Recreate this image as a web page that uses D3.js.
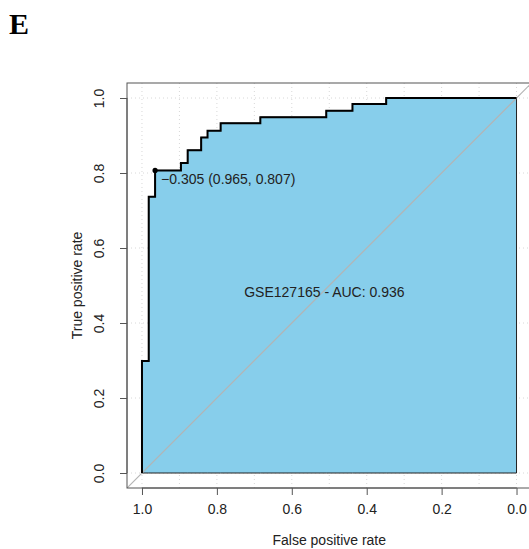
<!DOCTYPE html>
<html>
<head>
<meta charset="utf-8">
<script src="https://cdn.jsdelivr.net/npm/d3@7"></script>
<style>
  body { margin: 0; background: #fff; }
  text { font-family: "Liberation Sans", Arial, sans-serif; fill: #222; }
</style>
</head>
<body>
<svg id="chart" width="529" height="549"></svg>
<script>
// ROC coordinates (specificity, sensitivity), step corners
var specificity = [1, 1, 0.982, 0.965, 0.896, 0.878, 0.842, 0.825, 0.790, 0.684, 0.508, 0.438, 0.348, 0];
var sensitivity = [0, 0.299, 0.737, 0.807, 0.827, 0.861, 0.895, 0.913, 0.933, 0.949, 0.966, 0.984, 1, 1];
var bestPoint = {threshold: "\u22120.305", spec: 0.965, sens: 0.807};
var aucLabel = "GSE127165 - AUC: 0.936";
var tickValues = [1.0, 0.8, 0.6, 0.4, 0.2, 0.0];
var gridX = [1.0, 0.9, 0.8, 0.7, 0.6, 0.5, 0.4, 0.3, 0.2, 0.1, 0.0];
var gridY = [0.0, 0.2, 0.4, 0.6, 0.8, 1.0];

var svg = d3.select("#chart");

var x = d3.scaleLinear().domain([1.04, -0.04]).range([127, 531.5]);
var y = d3.scaleLinear().domain([-0.04, 1.04]).range([488, 83]);

var pts = specificity.map(function(s, i) { return [s, sensitivity[i]]; });

// panel letter
svg.append("text")
    .attr("x", 9).attr("y", 34)
    .style("font-family", "'Liberation Serif', 'Times New Roman', serif")
    .style("font-weight", "bold")
    .style("font-size", "30px")
    .style("fill", "#000")
    .text("E");

// grid
svg.append("g").selectAll("line").data(gridX).join("line")
    .attr("x1", d => x(d)).attr("x2", d => x(d))
    .attr("y1", y(-0.04)).attr("y2", y(1.04))
    .attr("stroke", "#d8d8d8").attr("stroke-dasharray", "1,3");
svg.append("g").selectAll("line").data(gridY).join("line")
    .attr("y1", d => y(d)).attr("y2", d => y(d))
    .attr("x1", x(1.04)).attr("x2", x(-0.04))
    .attr("stroke", "#d8d8d8").attr("stroke-dasharray", "1,3");

// auc polygon
var area = d3.area()
    .x(d => x(d[0])).y0(y(0)).y1(d => y(d[1]))
    .curve(d3.curveStepAfter);
svg.append("path").datum(pts)
    .attr("d", area)
    .attr("fill", "#87CEEB")
    .attr("stroke", "#222").attr("stroke-width", 1);

// identity line (clipped to plot box)
svg.append("clipPath").attr("id", "clip").append("rect")
    .attr("x", x(1.04)).attr("y", y(1.04))
    .attr("width", x(-0.04) - x(1.04)).attr("height", y(-0.04) - y(1.04));
svg.append("line")
    .attr("clip-path", "url(#clip)")
    .attr("x1", x(1.04)).attr("y1", y(-0.04))
    .attr("x2", x(-0.04)).attr("y2", y(1.04))
    .attr("stroke", "#b4b4b4").attr("stroke-width", 1.2);

// roc curve
var line = d3.line()
    .x(d => x(d[0])).y(d => y(d[1]))
    .curve(d3.curveStepAfter);
svg.append("path").datum(pts)
    .attr("d", line)
    .attr("fill", "none")
    .attr("stroke", "#000").attr("stroke-width", 2);

// best threshold point
svg.append("circle")
    .attr("cx", x(bestPoint.spec)).attr("cy", y(bestPoint.sens))
    .attr("r", 2.6).attr("fill", "#000");
svg.append("text")
    .attr("x", x(bestPoint.spec) + 6).attr("y", y(bestPoint.sens) + 14)
    .style("font-size", "14px")
    .text(bestPoint.threshold + " (" + bestPoint.spec.toFixed(3) + ", " + bestPoint.sens.toFixed(3) + ")");

// auc text
svg.append("text")
    .attr("x", x(0.513)).attr("y", y(0.5) + 11)
    .attr("text-anchor", "middle")
    .style("font-size", "14px")
    .text(aucLabel);

// box
svg.append("rect")
    .attr("x", x(1.04)).attr("y", y(1.04))
    .attr("width", x(-0.04) - x(1.04)).attr("height", y(-0.04) - y(1.04))
    .attr("fill", "none").attr("stroke", "#555").attr("stroke-width", 1);

// x axis
var xAxis = svg.append("g").attr("transform", "translate(0," + y(-0.04) + ")")
    .call(d3.axisBottom(x).tickValues(tickValues).tickFormat(d3.format(".1f"))
        .tickSize(7).tickSizeOuter(0).tickPadding(9));
xAxis.select(".domain").attr("stroke", "#555")
    .attr("d", "M" + x(1) + ",0H" + x(0));
xAxis.selectAll(".tick line").attr("stroke", "#555");
xAxis.selectAll("text").style("font-size", "14px")
    .style("font-family", "'Liberation Sans', Arial, sans-serif").attr("fill", "#222");

// y axis
var yAxis = svg.append("g").attr("transform", "translate(" + x(1.04) + ",0)")
    .call(d3.axisLeft(y).tickValues(tickValues).tickFormat(d3.format(".1f"))
        .tickSize(7).tickSizeOuter(0));
yAxis.select(".domain").attr("stroke", "#555")
    .attr("d", "M0," + y(0) + "V" + y(1));
yAxis.selectAll(".tick line").attr("stroke", "#555");
yAxis.selectAll("text")
    .style("font-size", "14px")
    .style("font-family", "'Liberation Sans', Arial, sans-serif")
    .attr("fill", "#222")
    .attr("x", null).attr("dy", null)
    .attr("text-anchor", "middle")
    .attr("transform", "translate(-28,0) rotate(-90)")
    .attr("y", 0)
    .attr("dy", "0.35em");

// axis titles
svg.append("text")
    .attr("x", x(0.5)).attr("y", 545)
    .attr("text-anchor", "middle")
    .style("font-size", "14px")
    .text("False positive rate");
svg.append("text")
    .attr("transform", "translate(82," + y(0.5) + ") rotate(-90)")
    .attr("text-anchor", "middle")
    .style("font-size", "14px")
    .text("True positive rate");
</script>
</body>
</html>
